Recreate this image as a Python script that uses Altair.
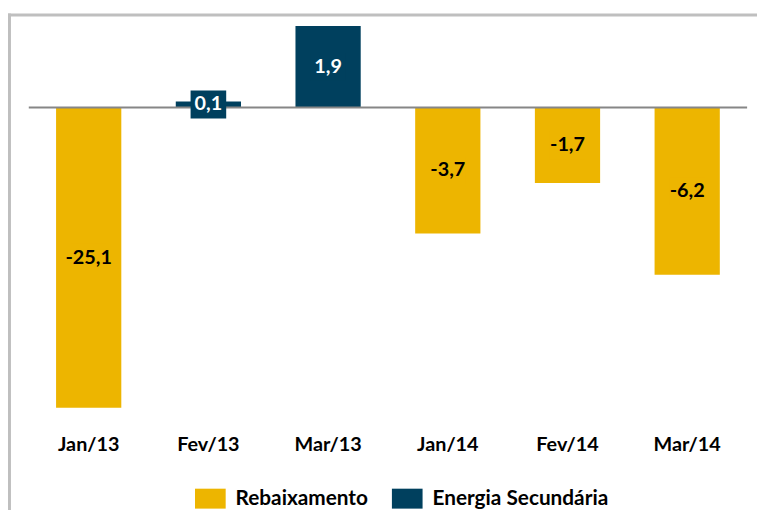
import altair as alt
import pandas as pd

# Data
months = ["Jan/13", "Fev/13", "Mar/13", "Jan/14", "Fev/14", "Mar/14"]
values = [-25.1, 0.1, 1.9, -3.7, -1.7, -6.2]
series = ["Rebaixamento", "Energia Secundária", "Energia Secundária",
          "Rebaixamento", "Rebaixamento", "Rebaixamento"]

series_names = ["Rebaixamento", "Energia Secundária"]
series_colors = ["#EDB500", "#00405E"]

C = 1.7  # symlog constant
W, H = 726, 400
y_domain = [-27.82, 2.015]
FONT = "Lato"

df = pd.DataFrame({"mes": months, "valor": values, "serie": series})

x_enc = alt.X(
    "mes:N", sort=months,
    scale=alt.Scale(paddingInner=0.455, paddingOuter=0.228),
    axis=alt.Axis(title=None, labelAngle=0, domain=False, ticks=False,
                  labelFont=FONT, labelFontSize=20, labelFontWeight="bold",
                  labelColor="black", labelPadding=17),
)
y_scale = alt.Scale(type="symlog", constant=C, domain=y_domain, nice=False)

base = alt.Chart(df).transform_calculate(
    mid=f"(datum.valor < 0 ? -1 : 1) * {C} * (sqrt(1 + abs(datum.valor) / {C}) - 1)",
    rotulo="replace(replace(format(datum.valor, '.1f'), '.', ','), '\u2212', '-')",
)

bars = base.mark_bar().encode(
    x=x_enc,
    y=alt.Y("valor:Q", scale=y_scale, axis=None),
    color=alt.Color(
        "serie:N",
        scale=alt.Scale(domain=series_names, range=series_colors),
        legend=alt.Legend(
            title=None, orient="none", legendX=168, legendY=465.5,
            direction="horizontal", padding=0,
            symbolType="M-1,-0.65H1V0.65H-1Z", symbolSize=961,
            symbolStrokeWidth=0, symbolOpacity=1,
            labelFont=FONT, labelFontSize=21, labelFontWeight="bold",
            labelColor="black", labelOffset=10, columnPadding=24,
            labelLimit=0,
        ),
    ),
)

zero_df = pd.DataFrame({"zero": [0]})
zero_line = alt.Chart(zero_df).mark_rule(color="#868686", strokeWidth=2).encode(
    y=alt.Y("zero:Q", scale=y_scale, axis=None)
)

label_boxes = base.mark_point(
    shape="M-1,-0.78H1V0.78H-1Z", size=1296, filled=True, opacity=1, strokeWidth=0
).encode(
    x=x_enc,
    y=alt.Y("mid:Q", scale=y_scale, axis=None),
    color=alt.condition(alt.datum.serie == "Energia Secundária",
                        alt.value(series_colors[1]), alt.value(series_colors[0])),
)

labels = base.mark_text(
    font=FONT, fontSize=20, fontWeight="bold", baseline="middle", align="center"
).encode(
    x=x_enc,
    y=alt.Y("mid:Q", scale=y_scale, axis=None),
    text="rotulo:N",
    color=alt.condition(alt.datum.serie == "Energia Secundária",
                        alt.value("white"), alt.value("black")),
)

frame = pd.DataFrame({"a": [0]})
border_left = alt.Chart(frame).mark_rule(color="#BFBFBF", strokeWidth=3).encode(
    x=alt.value(-19.5), y=alt.value(-9), y2=alt.value(700)
)
border_top = alt.Chart(frame).mark_rule(color="#BFBFBF", strokeWidth=3).encode(
    y=alt.value(-7.5), x=alt.value(-21), x2=alt.value(900)
)

chart = alt.layer(bars, zero_line, label_boxes, labels, border_left, border_top).properties(
    width=W, height=H,
    autosize=alt.AutoSizeParams(type="none"),
    padding={"left": 21, "top": 12, "right": 10, "bottom": 90},
    background="white",
).configure_view(strokeWidth=0)

chart.save("out.html", embed_options={"renderer": "svg", "actions": False})
